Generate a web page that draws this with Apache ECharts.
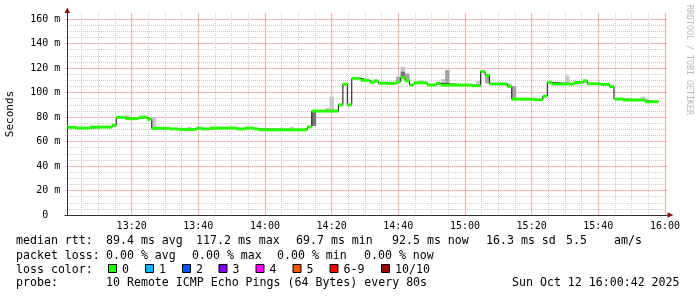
<!DOCTYPE html>
<html><head><meta charset="utf-8">
<script src="https://cdn.jsdelivr.net/npm/echarts@6/dist/echarts.min.js"></script>
<style>html,body{margin:0;padding:0;background:#fff}#c{width:697px;height:297px}</style>
</head><body><div id="c"></div>
<script>
// ---- data ----
// median RTT in ms, each value holds from its start time until the next one (80 s steps)
const segStart = ['13:00:42','13:03:22','13:07:22','13:14:02','13:15:22','13:18:02','13:22:02','13:24:42','13:26:02','13:31:22',
  '13:34:02','13:39:22','13:40:42','13:43:22','13:51:22','13:54:02','13:56:42','13:58:02','14:12:42','14:14:02',
  '14:22:02','14:23:22','14:24:42','14:26:02','14:28:42','14:31:22','14:32:42','14:34:02','14:39:22','14:40:42',
  '14:42:02','14:43:22','14:44:42','14:48:42','14:51:22','14:52:42','15:02:02','15:04:42','15:06:02','15:07:22',
  '15:12:42','15:14:02','15:20:42','15:23:22','15:24:42','15:26:02','15:32:42','15:35:22','15:36:42','15:40:42',
  '15:43:22','15:44:42','15:47:22','15:54:02'];
const segMedian = [71.6,71.0,71.8,73.2,79.8,78.7,79.8,78.2,70.8,70.3,
  69.9,71.0,70.3,71.0,70.3,71.0,70.3,69.7,72.0,84.9,
  90.0,106.8,90.0,111.6,110.0,108.5,109.5,107.6,108.8,112.1,
  109.6,106.2,108.0,106.2,107.5,106.1,105.6,117.2,114.2,107.1,
  105.0,94.6,94.1,97.1,108.4,107.0,108.3,109.6,107.2,106.7,
  104.9,94.7,93.9,92.5];
const seriesEnd = '15:58:02';
const stepSeconds = 80;
// smoke (ping spread) per 80 s step: start, low, high, density level
const smokeStart = ['13:18:02','13:26:02','13:36:42','14:07:22','14:14:02','14:18:02','14:19:22','14:39:22','14:40:42','14:40:42',
  '14:42:02','14:46:02','14:52:42','14:54:02','15:03:22','15:06:02','15:12:42','15:14:02','15:30:02','15:52:42'];
const smokeLow  = [79,71,70.5,70,72.8,85,85,108.5,112,112,109.5,108,106,106,105.6,107.5,104.7,94.5,107,93.9];
const smokeHigh = [81.5,80,72,72,85,87.5,96.6,113,121,117,115.7,110,111,118.4,109.5,114,107.5,105.3,114,96.6];
const smokeLevel= [1,1,1,1,3,1,1,2,1,3,2,1,1,2,1,2,1,2,1,1];
// axes
const axisStart = '13:00:00', axisEnd = '16:00:42';
const yMax = 165, yMajor = 20, yMinor = 5, xMajor = 20, xMinor = 5;
// legend texts
const rttLabel = 'median rtt:';
const rttStats = ['89.4 ms avg', '117.2 ms max', '69.7 ms min', '92.5 ms now', '16.3 ms sd', '5.5', 'am/s'];
const lossLabel = 'packet loss:';
const lossStats = ['0.00 % avg', '0.00 % max', '0.00 % min', '0.00 % now'];
const lossColorLabel = 'loss color:';
const lossNames = ['0','1','2','3','4','5','6-9','10/10'];
const lossColors = ['#26ff00','#00b8ff','#0059ff','#7e00ff','#ff00ff','#ff5500','#ff0000','#a00000'];
const probeLabel = 'probe:';
const probeText = '10 Remote ICMP Echo Pings (64 Bytes) every 80s';
const dateText = 'Sun Oct 12 16:00:42 2025';

// ---- helpers ----
function toMin(s){const p=s.split(':').map(Number);return (p[0]-13)*60+p[1]+p[2]/60;}
const stepMin = stepSeconds/60;
const MONO = '"DejaVu Sans Mono", monospace';

const lineData = segStart.map((s,i)=>[toMin(s), segMedian[i]]);
lineData.push([toMin(seriesEnd), segMedian[segMedian.length-1]]);
const greenData = segStart.map((s,i)=>[toMin(s), i+1<segStart.length?toMin(segStart[i+1]):toMin(seriesEnd), segMedian[i]]);
const smokeData = smokeStart.map((s,i)=>[toMin(s), toMin(s)+stepMin, smokeLow[i], smokeHigh[i], smokeLevel[i]]);
const smokeShade = {1:'#c8c8c8',2:'#a4a4a4',3:'#767676'};

const chart = echarts.init(document.getElementById('c'), null, {renderer:'canvas'});

const major = 'rgba(230,60,60,0.38)';
const minor = '#cccccc';
// minor lines every 5 units (first drawn at 5); leave the major positions empty
const minorCycle = [minor, minor, minor, 'rgba(0,0,0,0)'];

// legend graphics
const G = [];
const F = '11.6px ' + MONO;
function txt(x,y,t){G.push({type:'text',x:x,y:y,silent:true,style:{text:t,font:F,fill:'#000',verticalAlign:'middle'}});}
const r1 = 241, r2 = 255.5, r3 = 269.5, r4 = 283.3;
txt(16,r1,rttLabel);
const rttX = [106,196,296,392,486,566,614];
rttStats.forEach((t,i)=>txt(rttX[i],r1,t));
txt(16,r2,lossLabel);
const lossX = [106,192,277,364];
lossStats.forEach((t,i)=>txt(lossX[i],r2,t));
txt(16,r3,lossColorLabel);
const sqX = [108,145,182,218.5,255.5,292.5,329.5,381];
lossNames.forEach((n,i)=>{
  G.push({type:'rect',silent:true,shape:{x:sqX[i]+0.5,y:264.5,width:8,height:8},style:{fill:lossColors[i],stroke:'#000',lineWidth:1}});
  txt(sqX[i]+14,r3,n);
});
txt(16,r4,probeLabel);
txt(106,r4,probeText);
txt(512,r4,dateText);
// watermark
G.push({type:'text',x:689,y:5,rotation:-Math.PI/2,silent:true,style:{text:'RRDTOOL / TOBI OETIKER',font:'8.3px '+MONO,fill:'#b8b8b8',verticalAlign:'middle'}});
// axis arrows
G.push({type:'polygon',silent:true,shape:{points:[[64.5,13],[70.1,13],[67.3,7.5]]},style:{fill:'#8b1010'}});
G.push({type:'polygon',silent:true,shape:{points:[[667.5,212.3],[667.5,217.7],[673.5,215]]},style:{fill:'#8b1010'}});

const hidden = {axisLine:{show:false},axisTick:{show:false},axisLabel:{show:false}};

chart.setOption({
  animation:false,
  backgroundColor:'#fff',
  grid:{left:65,right:697-667.3,top:13,bottom:82,containLabel:false,outerBoundsMode:'none'},
  xAxis:[Object.assign({
    type:'value',position:'top',min:toMin(axisStart),max:toMin(axisEnd),interval:xMinor,
    splitLine:{show:true,showMinLine:false,showMaxLine:false,lineStyle:{color:minorCycle,type:[1,1],width:1}}
  },hidden),{
    type:'value',position:'bottom',min:toMin(axisStart),max:toMin(axisEnd),interval:xMajor,
    axisLine:{show:true,onZero:false,lineStyle:{color:'#333',width:1}},
    axisTick:{show:false},
    axisLabel:{showMinLabel:false,showMaxLabel:false,margin:6,color:'#000',fontSize:10,fontFamily:MONO,
      formatter:v=>{const h=13+Math.floor(v/60),m=Math.round(v%60);return h+':'+(m<10?'0':'')+m;}},
    splitLine:{show:true,showMinLine:false,showMaxLine:false,lineStyle:{color:major,type:'solid',width:1}}
  }],
  yAxis:[Object.assign({
    type:'value',position:'right',min:0,max:yMax,interval:yMinor,
    splitLine:{show:true,showMinLine:false,showMaxLine:false,lineStyle:{color:minorCycle,type:[1,1],width:1}}
  },hidden),{
    type:'value',position:'left',min:0,max:yMax,interval:yMajor,offset:-2.3,
    name:'Seconds',nameLocation:'middle',nameGap:52,nameRotate:90,
    nameTextStyle:{fontFamily:MONO,fontSize:11,color:'#000'},
    axisLine:{show:true,onZero:false,lineStyle:{color:'#333',width:1}},
    axisTick:{show:false},
    axisLabel:{showMaxLabel:false,margin:7,color:'#000',fontSize:10,fontFamily:MONO,
      formatter:v=>v===0?'0  ':v+' m'},
    splitLine:{show:true,showMinLine:false,showMaxLine:false,lineStyle:{color:major,type:'solid',width:1}}
  }],
  graphic:G,
  series:[{
    type:'custom',name:'smoke',xAxisIndex:1,yAxisIndex:1,z:2,silent:true,
    data:smokeData,
    renderItem:(params,api)=>{
      const a=api.coord([api.value(0),api.value(3)]), b=api.coord([api.value(1),api.value(2)]);
      return {type:'rect',shape:{x:a[0],y:a[1],width:b[0]-a[0],height:b[1]-a[1]},style:{fill:smokeShade[api.value(4)]}};
    }
  },{
    type:'line',name:'median',xAxisIndex:1,yAxisIndex:1,z:3,step:'end',showSymbol:false,silent:true,
    data:lineData,lineStyle:{color:'#111',width:1}
  },{
    type:'custom',name:'median loss 0',xAxisIndex:1,yAxisIndex:1,z:4,silent:true,
    data:greenData,
    renderItem:(params,api)=>{
      const a=api.coord([api.value(0),api.value(2)]), b=api.coord([api.value(1),api.value(2)]);
      return {type:'rect',shape:{x:a[0],y:a[1]-1.5,width:b[0]-a[0],height:3},style:{fill:lossColors[0]}};
    }
  }]
});
</script></body></html>
